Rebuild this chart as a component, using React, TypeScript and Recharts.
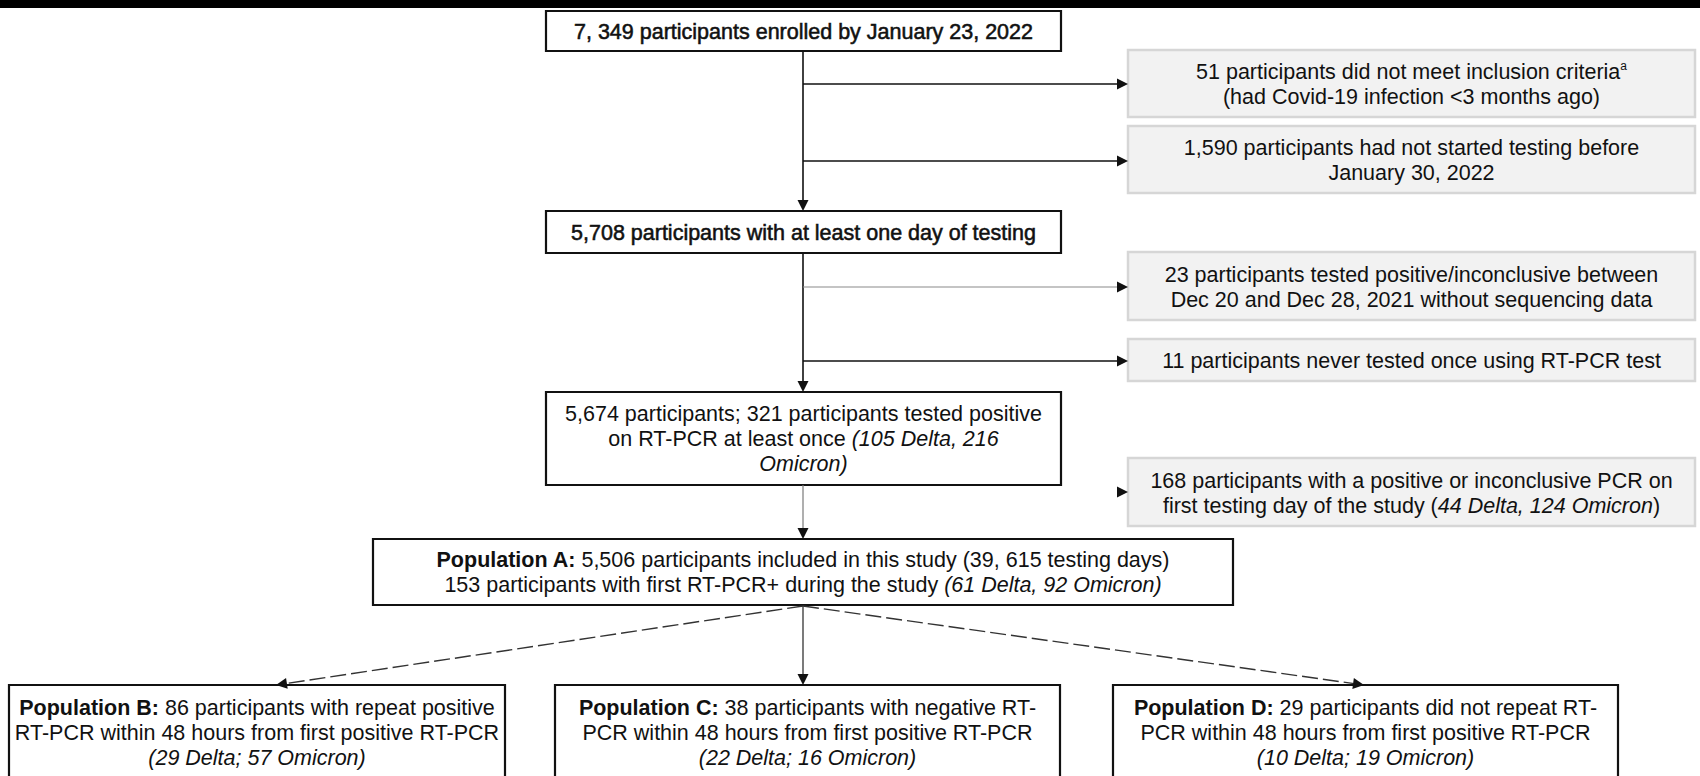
import React from 'react';
import { ComposedChart, XAxis, YAxis, ReferenceArea, ReferenceLine } from 'recharts';

const W = 1700;
const H = 776;
const FONT = '"Liberation Sans", Arial, Helvetica, sans-serif';
const FS = 21.5;
const GAP = 25;

type Seg = { t: string; s?: 'b' | 'i' | 'sup' };

// ---------- text content (data) ----------
const enrolledText: Seg[][] = [[{ t: '7, 349 participants enrolled by January 23, 2022' }]];
const testedText: Seg[][] = [[{ t: '5,708 participants with at least one day of testing' }]];
const pcrText: Seg[][] = [
  [{ t: '5,674 participants; 321 participants tested positive' }],
  [{ t: 'on RT-PCR at least once ' }, { t: '(105 Delta, 216', s: 'i' }],
  [{ t: 'Omicron)', s: 'i' }],
];
const popAText: Seg[][] = [
  [{ t: 'Population A:', s: 'b' }, { t: ' 5,506 participants included in this study (39, 615 testing days)' }],
  [{ t: '153 participants with first RT-PCR+ during the study ' }, { t: '(61 Delta, 92 Omicron)', s: 'i' }],
];
const popBText: Seg[][] = [
  [{ t: 'Population  B:', s: 'b' }, { t: ' 86 participants with repeat positive' }],
  [{ t: 'RT-PCR within 48 hours from first positive RT-PCR' }],
  [{ t: '(29 Delta; 57 Omicron)', s: 'i' }],
];
const popCText: Seg[][] = [
  [{ t: 'Population C:', s: 'b' }, { t: ' 38 participants with negative RT-' }],
  [{ t: 'PCR within 48 hours from first positive RT-PCR' }],
  [{ t: '(22 Delta; 16 Omicron)', s: 'i' }],
];
const popDText: Seg[][] = [
  [{ t: 'Population D:', s: 'b' }, { t: ' 29 participants did not repeat RT-' }],
  [{ t: 'PCR within 48 hours from first positive RT-PCR' }],
  [{ t: '(10 Delta; 19 Omicron)', s: 'i' }],
];
const exclusionTexts: Seg[][][] = [
  [
    [{ t: '51 participants did not meet inclusion criteria' }, { t: 'a', s: 'sup' }],
    [{ t: '(had Covid-19 infection <3 months ago)' }],
  ],
  [[{ t: '1,590 participants had not started testing before' }], [{ t: 'January 30, 2022' }]],
  [
    [{ t: '23 participants tested positive/inconclusive between' }],
    [{ t: 'Dec 20 and Dec 28, 2021 without sequencing data' }],
  ],
  [[{ t: '11 participants never tested once using RT-PCR test' }]],
  [
    [{ t: '168 participants with a positive or inconclusive PCR on' }],
    [{ t: 'first testing day of the study (' }, { t: '44 Delta, 124 Omicron', s: 'i' }, { t: ')' }],
  ],
];

// ---------- layout (positions in chart units) ----------
type MainNode = { x1: number; x2: number; y1: number; y2: number; first: number; heavy?: boolean; text: Seg[][] };
const mainNodes: MainNode[] = [
  { x1: 546, x2: 1061, y1: 11, y2: 51, first: 20, heavy: true, text: enrolledText },
  { x1: 546, x2: 1061, y1: 211, y2: 253, first: 21, heavy: true, text: testedText },
  { x1: 546, x2: 1061, y1: 392, y2: 485, first: 21, text: pcrText },
  { x1: 373, x2: 1233, y1: 539, y2: 605, first: 20, text: popAText },
  { x1: 9, x2: 505, y1: 685, y2: 800, first: 22, text: popBText },
  { x1: 555, x2: 1060, y1: 685, y2: 800, first: 22, text: popCText },
  { x1: 1113, x2: 1618, y1: 685, y2: 800, first: 22, text: popDText },
];
const greyX1 = 1128;
const greyX2 = 1695;
const greyRows: { y1: number; y2: number; first: number }[] = [
  { y1: 50, y2: 117, first: 21 },
  { y1: 126, y2: 193, first: 21 },
  { y1: 252, y2: 320, first: 22 },
  { y1: 339, y2: 381, first: 21 },
  { y1: 458, y2: 526, first: 22 },
];

type Conn = { from: [number, number]; to: [number, number]; color: string; w: number; dash?: string; head: boolean; noLine?: boolean };
const connectors: Conn[] = [
  { from: [803, 51], to: [803, 211], color: '#111', w: 1.6, head: true },
  { from: [803, 84], to: [1128, 84], color: '#111', w: 1.6, head: true },
  { from: [803, 161], to: [1128, 161], color: '#111', w: 1.6, head: true },
  { from: [803, 253], to: [803, 392], color: '#111', w: 1.6, head: true },
  { from: [803, 287], to: [1128, 287], color: '#8a8a8a', w: 1.2, head: true },
  { from: [803, 361], to: [1128, 361], color: '#111', w: 1.6, head: true },
  { from: [803, 485], to: [803, 539], color: '#7a7a7a', w: 1.2, head: true },
  { from: [1116, 492], to: [1128, 492], color: '#111', w: 1.6, head: true, noLine: true },
  { from: [803, 606], to: [803, 685], color: '#333', w: 1.3, head: true },
  { from: [803, 606], to: [276, 685], color: '#333', w: 1.4, dash: '16 5', head: true },
  { from: [803, 606], to: [1364, 685], color: '#333', w: 1.4, dash: '16 5', head: true },
];

const renderLines = (lines: Seg[][], first: number, heavy: boolean) => (props: any) => {
  const vb = props.viewBox || { x: 0, y: 0, width: 0, height: 0 };
  const cx = vb.x + vb.width / 2;
  return (
    <g>
      {lines.map((line, i) => (
        <text
          key={i}
          x={cx}
          y={vb.y + first + i * GAP}
          dy={7.6}
          textAnchor="middle"
          fontFamily={FONT}
          fontSize={FS}
          fill="#111"
          stroke={heavy ? '#111' : 'none'}
          strokeWidth={heavy ? 0.55 : 0}
        >
          {line.map((seg, j) =>
            seg.s === 'sup' ? (
              <tspan key={j} fontSize={12} dy={-9}>
                {seg.t}
              </tspan>
            ) : (
              <tspan key={j} fontWeight={seg.s === 'b' ? 'bold' : 'normal'} fontStyle={seg.s === 'i' ? 'italic' : 'normal'}>
                {seg.t}
              </tspan>
            )
          )}
        </text>
      ))}
    </g>
  );
};

const arrowShape = (c: Conn) => (p: any) => {
  const { x1, y1, x2, y2 } = p;
  const ang = Math.atan2(y2 - y1, x2 - x1);
  const L = 11;
  const hw = 5.5;
  const cs = Math.cos(ang);
  const sn = Math.sin(ang);
  const bx = x2 - L * cs;
  const by = y2 - L * sn;
  const pts = `${x2},${y2} ${bx - hw * sn},${by + hw * cs} ${bx + hw * sn},${by - hw * cs}`;
  return (
    <g>
      {!c.noLine && (
        <line x1={x1} y1={y1} x2={bx + 1 * cs} y2={by + 1 * sn} stroke={c.color} strokeWidth={c.w} strokeDasharray={c.dash} />
      )}
      {c.head && <polygon points={pts} fill="#111" />}
    </g>
  );
};

export default function App() {
  return (
    <div style={{ position: 'absolute', left: 0, top: 0, width: W, height: H, background: '#fff' }}>
      <ComposedChart width={W} height={H} data={[{ x: 0, y: 0 }]} margin={{ top: 0, right: 0, bottom: 0, left: 0 }}>
        <XAxis type="number" dataKey="x" domain={[0, W]} allowDataOverflow hide />
        <YAxis type="number" dataKey="y" domain={[0, H]} allowDataOverflow reversed hide />
        <ReferenceArea x1={0} x2={W} y1={0} y2={8} fill="#000" fillOpacity={1} stroke="none" ifOverflow="visible" />
        {greyRows.map((r, i) => (
          <ReferenceArea
            key={'g' + i}
            x1={greyX1}
            x2={greyX2}
            y1={r.y1}
            y2={r.y2}
            fill="#f2f2f2"
            fillOpacity={1}
            stroke="#d6d6d6"
            strokeWidth={2.5}
            ifOverflow="visible"
            label={renderLines(exclusionTexts[i], r.first, false)}
          />
        ))}
        {connectors.map((c, i) => (
          <ReferenceLine
            key={'c' + i}
            segment={[
              { x: c.from[0], y: c.from[1] },
              { x: c.to[0], y: c.to[1] },
            ]}
            ifOverflow="visible"
            shape={arrowShape(c)}
          />
        ))}
        {mainNodes.map((n, i) => (
          <ReferenceArea
            key={'m' + i}
            x1={n.x1}
            x2={n.x2}
            y1={n.y1}
            y2={n.y2}
            fill="#fff"
            fillOpacity={1}
            stroke="#111"
            strokeWidth={2.2}
            ifOverflow="visible"
            label={renderLines(n.text, n.first, !!n.heavy)}
          />
        ))}
      </ComposedChart>
    </div>
  );
}
